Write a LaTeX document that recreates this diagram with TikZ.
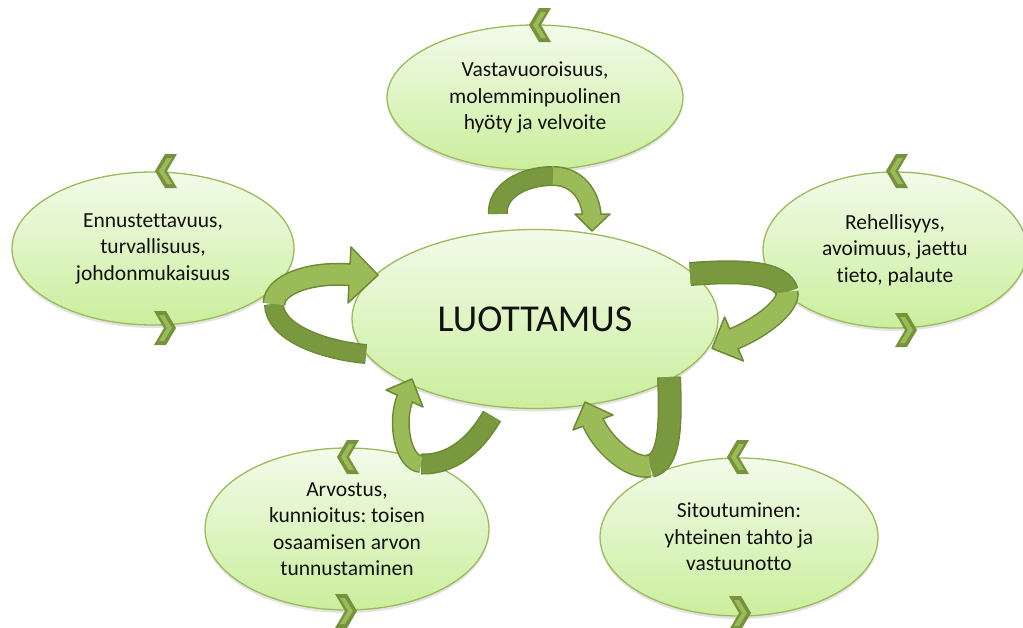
\documentclass[tikz,border=0pt]{standalone}
\usepackage{fontspec}
\setmainfont[Ligatures=NoCommon]{Carlito}
\usetikzlibrary{shapes.geometric,shadows}
\definecolor{elline}{HTML}{9BBB59}
\definecolor{gtop}{HTML}{F2FBEA}
\definecolor{gbot}{HTML}{CBEE9C}
\definecolor{arrline}{HTML}{6C8A34}
\definecolor{arrdark}{HTML}{7A993F}
\definecolor{arrlight}{HTML}{9BBB59}
\definecolor{chevout}{HTML}{76933C}
\definecolor{chevin}{HTML}{9BBB59}
\definecolor{txt}{HTML}{111111}
\newcommand\chevL[2]{\begin{scope}[shift={(#1,#2)}]
 \fill[chevout] (-11,0)--(-1,-17)--(11,-17)--(1,0)--(11,17)--(-1,17)--cycle;
 \fill[chevin] (-7,0)--(1,-13)--(6,-13)--(-2,0)--(6,13)--(1,13)--cycle;
 \end{scope}}
\newcommand\chevR[2]{\begin{scope}[shift={(#1,#2)},xscale=-1]
 \fill[chevout] (-11,0)--(-1,-17)--(11,-17)--(1,0)--(11,17)--(-1,17)--cycle;
 \fill[chevin] (-7,0)--(1,-13)--(6,-13)--(-2,0)--(6,13)--(1,13)--cycle;
 \end{scope}}
% #1 fill width, #2 outline width, #3 colour, #4 path
\newcommand\ribbon[4]{\draw[line width=#2pt, draw=arrline] #4; \draw[line width=#1pt, draw=#3] #4;}
\newcommand\ribout[2]{\draw[line width=#1pt, draw=arrline] #2;}
\newcommand\ribfill[3]{\draw[line width=#1pt, draw=#2] #3;}
\begin{document}
\frenchspacing
\begin{tikzpicture}[x=1pt,y=-1pt,
  bub/.style={ellipse, draw=elline, line width=1.3pt, top color=gtop, bottom color=gbot,
    inner sep=0pt, align=center, text=txt, font=\fontsize{21.5}{26.5}\selectfont,
    drop shadow={opacity=0.22, shadow xshift=0pt, shadow yshift=-3pt}},
  head/.style={fill=arrlight, draw=arrline, line width=1.5pt, line join=round}]
\useasboundingbox (0,0) rectangle (1023,627);

% ellipses
\node[bub, minimum width=366pt, minimum height=179pt, font=\fontsize{38}{44}\selectfont] (c) at (535,319) {LUOTTAMUS};
\node[bub, minimum width=296pt, minimum height=145pt] (t) at (535,97.5) {Vastavuoroisuus,\\molemminpuolinen\\hyöty ja velvoite};
\node[bub, minimum width=282pt, minimum height=153pt] (l) at (153,248.5) {Ennustettavuus,\\turvallisuus,\\johdonmukaisuus};
\node[bub, minimum width=264pt, minimum height=156pt] (r) at (895,250) {Rehellisyys,\\avoimuus, jaettu\\tieto, palaute};
\node[bub, minimum width=284pt, minimum height=162pt] (bl) at (347,529) {Arvostus,\\kunnioitus: toisen\\osaamisen arvon\\tunnustaminen};
\node[bub, minimum width=278pt, minimum height=158pt] (br) at (739,537) {Sitoutuminen:\\yhteinen tahto ja\\vastuunotto};

% arrow top
\ribbon{17}{20}{arrdark}{(498,214) .. controls (496,192) and (522,176) .. (553,176)}
\ribout{20}{(553,176) .. controls (576,176) and (591,194) .. (592,218)}
\filldraw[head] (575,214) -- (592,231) -- (610,214) -- cycle;
\ribfill{17}{arrlight}{(553,176) .. controls (576,176) and (591,194) .. (592,218)}

% arrow left
\ribbon{17}{20}{arrdark}{(366,354) .. controls (322,350) and (274,332) .. (274,304)}
\ribout{23}{(274,304) .. controls (274,284) and (312,271) .. (353,275)}
\filldraw[head] (351,247) -- (378,275) -- (348,303) -- cycle;
\ribfill{20}{arrlight}{(274,304) .. controls (274,284) and (312,271) .. (353,275)}

% arrow right
\ribbon{21}{24}{arrdark}{(690,274) .. controls (742,270) and (782,272) .. (787,292)}
\ribout{23}{(787,292) .. controls (790,304) and (764,327) .. (731,340)}
\filldraw[head] (724.6,317) -- (712,348.4) -- (743.4,361) -- cycle;
\ribfill{20}{arrlight}{(787,292) .. controls (790,304) and (764,327) .. (731,340)}

% arrow bottom left
\ribbon{18}{21}{arrdark}{(492,416) .. controls (474,447) and (450,465) .. (421,464)}
\ribout{18}{(421,464) .. controls (402,463) and (395,419) .. (406,396)}
\filldraw[head] (386,390) -- (412,379) -- (423,407) -- cycle;
\ribfill{15}{arrlight}{(421,464) .. controls (402,463) and (395,419) .. (406,396)}

% arrow bottom right
\ribbon{21}{24}{arrdark}{(669,377) .. controls (671,425) and (670,462) .. (650,466)}
\ribout{23}{(650,466) .. controls (630,470) and (601,443) .. (592,420)}
\filldraw[head] (573,430) -- (585,402) -- (613,415) -- cycle;
\ribfill{20}{arrlight}{(650,466) .. controls (630,470) and (601,443) .. (592,420)}

% chevrons
\chevL{540}{25}
\chevL{166}{171}
\chevR{165}{328}
\chevL{897}{171}
\chevR{906}{330}
\chevL{348}{457}
\chevR{346}{611}
\chevL{738}{457}
\chevR{740}{613}
\end{tikzpicture}
\end{document}
